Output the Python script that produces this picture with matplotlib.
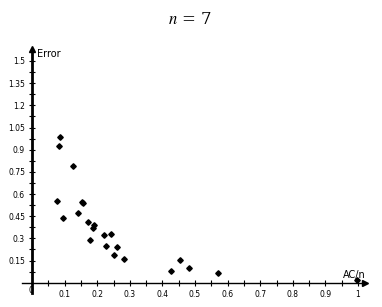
import matplotlib.pyplot as plt

# AC/n vs error
ac_n = [0.086, 0.082, 0.127, 0.078, 0.154, 0.155, 0.096, 0.142, 0.173, 0.191,
        0.187, 0.179, 0.221, 0.242, 0.226, 0.260, 0.251, 0.283, 0.427, 0.455,
        0.483, 0.571, 0.997]
error = [0.986, 0.927, 0.792, 0.553, 0.548, 0.538, 0.436, 0.470, 0.409, 0.388,
         0.370, 0.287, 0.323, 0.332, 0.250, 0.242, 0.185, 0.158, 0.077, 0.152,
         0.100, 0.068, 0.018]

x_ticks = [0.1, 0.2, 0.3, 0.4, 0.5, 0.6, 0.7, 0.8, 0.9, 1.0]
x_labels = ["0.1", "0.2", "0.3", "0.4", "0.5", "0.6", "0.7", "0.8", "0.9", "1"]
y_ticks = [0.15, 0.3, 0.45, 0.6, 0.75, 0.9, 1.05, 1.2, 1.35, 1.5]
y_labels = ["0.15", "0.3", "0.45", "0.6", "0.75", "0.9", "1.05", "1.2", "1.35", "1.5"]

fig = plt.figure(figsize=(3.82, 3.07), dpi=100)
W, H = 382, 307
ax = fig.add_axes([20 / W, 1 - 295 / H, 350 / W, 250 / H])
ax.set_xlim(-12 / 326, 338 / 326)
ax.set_ylim((282.7 - 295) / 147.8, (282.7 - 45) / 147.8)

ax.plot(ac_n, error, linestyle="none", marker="D", markersize=2.8, color="black")

for s in ["top", "right"]:
    ax.spines[s].set_visible(False)
ax.spines["left"].set_position(("data", 0))
ax.spines["bottom"].set_position(("data", 0))
ax.spines["left"].set_linewidth(2)
ax.spines["bottom"].set_linewidth(1)
ax.spines["left"].set_bounds(-0.07, 1.58)
ax.spines["bottom"].set_bounds(-0.03, 1.02)

# arrow heads
ax.plot(1.02, 0, marker=">", color="black", markersize=5, clip_on=False)
ax.plot(0, 1.58, marker="^", color="black", markersize=5, clip_on=False)

ax.set_xticks(x_ticks)
ax.set_xticklabels(x_labels)
ax.set_xticks([0.05 + 0.1 * i for i in range(10)], minor=True)
ax.set_yticks(y_ticks)
ax.set_yticklabels(y_labels)
ax.set_yticks([0.075 + 0.15 * i for i in range(10)], minor=True)
ax.tick_params(which="both", direction="inout", length=4, width=0.8,
               labelsize=5.5, pad=3)
ax.text(-0.004, -0.02, "0", fontsize=5.5, ha="center", va="top")

ax.text(0.015, 1.545, "Error", fontsize=7, ha="left", va="center")
ax.text(0.955, 0.055, "AC/n", fontsize=7, ha="left", va="center")

fig.text(190 / W, 1 - 20 / H, "$n$ = 7", fontsize=12, ha="center", va="center",
         family="serif", math_fontfamily="stix")

fig.savefig("out.png", dpi=100)
